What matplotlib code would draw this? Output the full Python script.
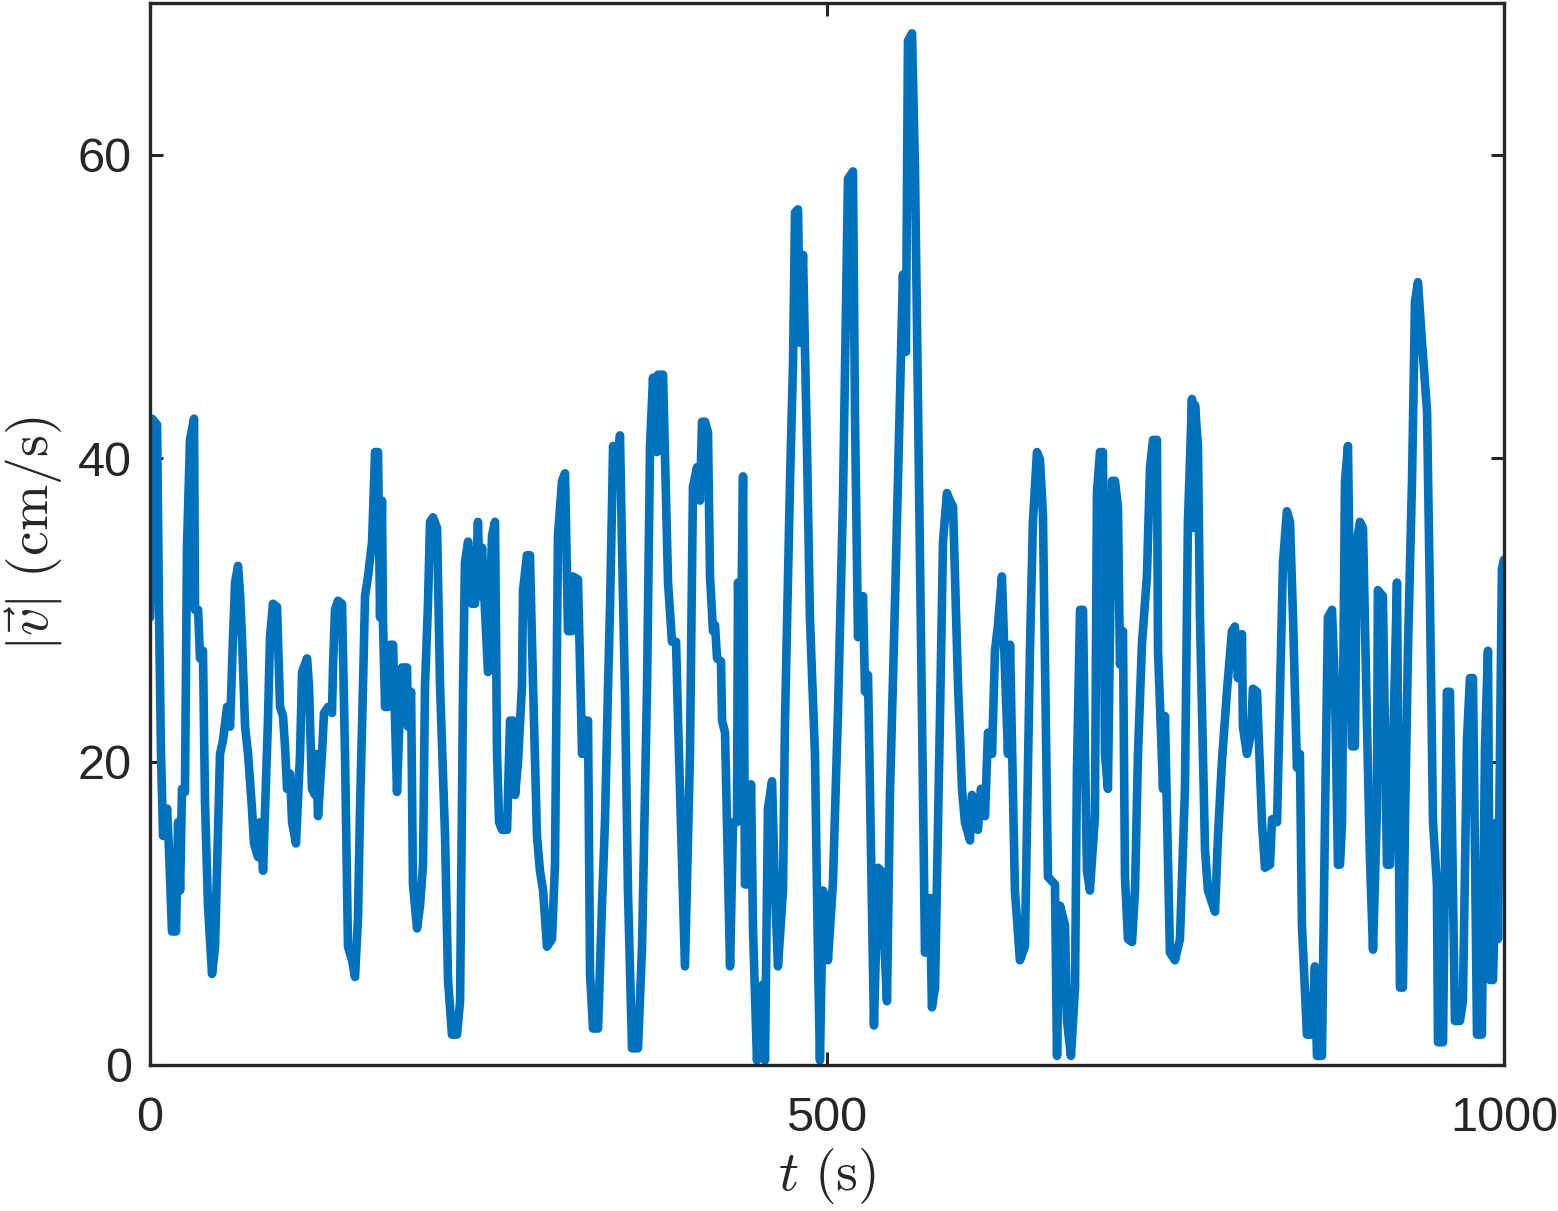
import numpy as np
import matplotlib.pyplot as plt

# time (s) and speed |v| (cm/s)
t = [0, 1.5, 5.2, 6.6, 8.1, 9.6, 12.6, 14.0, 16.2, 19.2, 20.7, 22.2, 23.6, 25.8, 27.3, 29.5,
     32.5, 33.2, 35.5, 36.9, 39.1, 40.6, 42.8, 45.8, 48.0, 50.2, 51.7, 53.9, 56.9, 59.1, 61.3,
     62.8, 65.0, 66.5, 67.9, 70.2, 72.4, 75.3, 76.8, 79.8, 81.2, 83.5, 87.1, 88.6, 90.8, 93.8,
     96.0, 98.2, 99.7, 101.2, 103.4, 104.9, 107.8, 110.8, 112.3, 116.0, 117.4, 119.6, 121.9,
     122.6, 124.1, 127.0, 128.5, 131.5, 134.4, 135.2, 136.6, 138.8, 141.8, 144.0, 146.2, 149.2,
     151.4, 153.6, 155.1, 157.3, 158.8, 161.0, 164.0, 166.2, 168.4, 169.9, 171.3, 172.1, 173.6,
     175.8, 177.3, 179.5, 182.4, 184.6, 186.1, 189.8, 190.5, 192.8, 194.2, 197.2, 199.4, 201.6,
     203.1, 205.3, 206.8, 209.0, 212.0, 214.2, 217.9, 220.1, 223.0, 226.7, 229.0, 231.2, 232.6,
     234.9, 237.8, 240.0, 242.2, 243.7, 245.2, 247.4, 249.6, 252.6, 254.8, 256.3, 257.8, 260.0,
     263.7, 265.9, 268.1, 269.6, 271.8, 274.7, 275.5, 278.4, 280.6, 282.9, 285.8, 288.0, 290.3,
     293.2, 296.9, 299.1, 301.3, 304.3, 306.5, 308.7, 311.7, 312.4, 316.1, 319.1, 321.3, 323.5,
     325.0, 327.2, 330.9, 333.8, 336.0, 338.3, 339.7, 341.2, 342.0, 344.9, 347.1, 348.6, 350.8,
     353.0, 356.0, 360.4, 363.4, 367.1, 369.3, 371.5, 374.4, 375.2, 378.9, 382.6, 385.5, 388.5,
     390.0, 395.1, 398.8, 401.0, 404.0, 406.2, 407.7, 409.9, 412.1, 413.6, 415.8, 417.3, 418.8,
     421.7, 422.5, 424.7, 426.1, 428.4, 430.6, 433.5, 434.3, 435.7, 438.0, 439.4, 441.7, 443.9,
     445.4, 448.3, 450.5, 452.7, 454.2, 456.4, 459.4, 461.6, 463.8, 467.5, 469.0, 472.7, 474.9,
     476.4, 478.6, 480.1, 482.3, 485.2, 487.4, 491.1, 493.4, 494.8, 497.0, 498.5, 500.7, 504.4,
     508.1, 511.8, 515.5, 519.2, 520.7, 522.9, 526.6, 528.1, 530.3, 534.7, 537.7, 539.9, 544.3,
     546.5, 550.2, 556.1, 558.3, 559.8, 562.8, 565.0, 572.4, 576.1, 577.5, 579.8, 583.5, 585.7,
     588.6, 590.8, 593.1, 596.8, 599.7, 601.9, 605.6, 607.1, 611.5, 613.7, 616.7, 618.9, 621.9,
     624.1, 626.3, 629.2, 631.5, 633.7, 635.2, 638.8, 642.5, 646.2, 649.9, 652.1, 655.1, 657.3,
     659.5, 663.2, 668.4, 669.9, 672.1, 675.8, 677.3, 680.2, 683.2, 684.6, 686.9, 689.1, 690.6,
     692.0, 694.2, 697.9, 699.4, 701.6, 703.8, 705.3, 707.5, 710.5, 712.7, 714.9, 716.4, 718.6,
     720.1, 722.3, 725.3, 727.5, 729.7, 732.6, 736.3, 738.6, 740.8, 743.7, 744.5, 748.2, 749.6,
     753.3, 757.0, 760.7, 764.4, 766.6, 769.6, 770.3, 771.8, 774.0, 775.5, 779.2, 781.4, 786.6,
     788.8, 791.7, 795.4, 799.1, 801.3, 803.5, 806.5, 807.2, 810.2, 813.2, 814.6, 817.6, 821.3,
     823.5, 827.2, 828.7, 832.4, 834.6, 836.8, 839.7, 842.0, 844.2, 847.1, 849.3, 850.8, 854.5,
     858.2, 860.4, 861.9, 865.6, 867.8, 870.0, 873.0, 875.2, 877.4, 878.9, 880.4, 882.6, 884.8,
     887.7, 889.9, 891.4, 893.6, 895.9, 898.8, 901.0, 903.3, 906.2, 906.9, 910.6, 913.6, 915.8,
     918.0, 921.0, 923.2, 925.4, 926.9, 929.1, 932.1, 934.3, 936.5, 939.5, 943.2, 945.3, 947.6,
     950.5, 951.3, 955.0, 957.9, 960.1, 961.6, 963.8, 967.5, 969.7, 972.7, 974.9, 977.1, 978.6,
     980.1, 983.7, 986.0, 988.2, 989.7, 991.9, 994.8, 995.6, 998.5, 1000.0]

speed = [29.5, 42.6, 42.2, 30, 20.5, 15.1, 16.9, 14.2, 8.8, 8.8, 16, 11.5, 18.2, 18, 34.1, 41.2,
         42.6, 30, 30, 26.8, 27.3, 17.3, 10.5, 6, 7.8, 15.5, 20.5, 21.4, 23.6, 22.3, 28.2,
         31.8, 32.9, 31, 28.2, 22.3, 20.5, 16.9, 14.6, 13.7, 16, 12.8, 22.7, 28.2, 30.4, 30.2,
         23.6, 23, 21, 18.2, 19.2, 16, 14.6, 20.5, 25.9, 26.8, 25, 18.2, 17.8,
         20.5, 16.4, 20.5, 23.2, 23.6, 23.2, 26.4, 30, 30.6, 30.4, 20.5, 7.8, 6.9,
         5.8, 9.7, 16.9, 25, 30.9, 32.2, 34.5, 40.4, 40.4, 29.5, 37.2, 29, 23.6,
         23.6, 27.7, 27.7, 18, 23.6, 26.2, 26.2, 22.3, 24.6, 11.9, 9, 10.5, 13.2,
         25, 30.4, 35.8, 36.1, 35.4, 25, 15.1, 5.6, 2, 2, 4.2, 25, 33.1,
         34.5, 30.4, 30.4, 35.8, 30.9, 34.1, 30, 25.9, 34.9, 35.8, 20.5, 16, 15.5,
         15.5, 22.7, 22.7, 17.8, 20, 25, 31.3, 33.6, 33.6, 25, 15.1, 12.8, 11.5,
         7.8, 8.3, 13.2, 34.9, 38.5, 39, 28.6, 28.6, 32.2, 32, 20.5, 22.7, 22.7,
         6, 2.4, 2.4, 10.5, 16, 25, 30, 36.8, 40.8, 38.5, 41.5, 34.1, 24.6,
         11.5, 1.1, 1.1, 7.8, 25, 40.8, 45.3, 40.4, 45.5, 45.5, 31.8, 27.9, 27.9,
         22.7, 6.5, 20.5, 38.1, 39.4, 37.2, 42.4, 42.4, 41.7, 32.2, 28.6, 29, 26.8,
         26.6, 22.7, 21.9, 16, 6.5, 16, 16, 31.8, 22.7, 38.8, 11.9, 11.9, 18.5,
         8.8, 0.3, 5.1, 5.3, 0.3, 16.9, 18.7, 11.5, 6.5, 11.5, 22.7, 38.5, 46.2,
         56.2, 56.4, 47.6, 53.4, 40.8, 29.5, 20.5, 6.9, 0.3, 11.5, 11.0, 6.9, 12,
         23.2, 37.2, 58.4, 58.9, 42.6, 28.2, 30.9, 24.6, 25.7, 2.6, 13, 12.8, 4.2,
         17.8, 30.4, 52.1, 47, 67.5, 68, 59, 7.4, 11, 3.8, 5.1, 23.2, 34.5,
         37.7, 37.2, 36.8, 25, 18.2, 16, 14.8, 17.8, 15.5, 18.2, 16.4, 21.9, 20.5,
         27.3, 29, 32.2, 25.9, 20.5, 27.7, 11.5, 6.9, 7.8, 27.3, 35.8, 40.4, 39.9,
         36.3, 12.4, 11.9, 0.6, 10.5, 9.2, 2.9, 0.6, 5.1, 19.2, 30, 30, 20.5,
         12.8, 11.5, 16.4, 37.7, 40.4, 40.4, 20.5, 18.2, 38.5, 38.5, 36.8, 26.4, 28.6,
         12.4, 8.3, 8.1, 11.5, 20.5, 27.7, 32.2, 39.4, 41.2, 41.2, 27.3, 18.2, 23,
         7.4, 6.9, 8.3, 18.2, 35.8, 43.9, 35.4, 43.5, 40.8, 29.5, 14.2, 11.5, 10.1,
         15.1, 20, 24.6, 28.6, 28.9, 25.5, 28.4, 22.3, 20.5, 21.9, 24.8, 24.6, 16,
         13, 13.2, 16.2, 16, 24.6, 33.1, 36.5, 35.8, 29.5, 19.6, 20.5, 9.2, 2,
         2, 6.5, 0.6, 0.6, 16, 29.5, 30, 25, 13.2, 13.2, 16, 38.5, 40.8,
         21, 21, 34.5, 35.8, 35.4, 22.7, 13.7, 7.6, 16.9, 31.3, 30.9, 13.2, 13.2,
         20.5, 31.8, 5.1, 5.1, 16, 27.3, 38.5, 50.3, 51.6, 47.6, 43.1, 30.9, 16,
         11.9, 1.5, 1.5, 24.6, 24.6, 16, 2.9, 2.9, 4.2, 21.4, 25.5, 25.5, 14.2,
         2, 2, 21, 27.3, 5.6, 5.6, 16, 8.3, 32.7, 33.3]

x_ticks = [0, 500, 1000]
y_ticks = [0, 20, 40, 60]

plt.rcParams['font.family'] = ['Liberation Sans', 'DejaVu Sans']
plt.rcParams['mathtext.fontset'] = 'cm'

fig = plt.figure(figsize=(15.58, 12.11), dpi=100)
ax = fig.add_axes([0.0963, 0.1206, 0.869, 0.8769])

ax.plot(t, speed, color='#0072BD', linewidth=6.2, solid_joinstyle='round',
        solid_capstyle='round')

ax.set_xlim(0, 1000)
ax.set_ylim(0, 70)
ax.set_xticks(x_ticks)
ax.set_yticks(y_ticks)

dark = '#262626'
for spine in ax.spines.values():
    spine.set_linewidth(2.4)
    spine.set_color(dark)
ax.tick_params(direction='in', length=9.5, width=2.2, top=True, right=True,
               labelsize=35, colors=dark)
ax.tick_params(axis='x', pad=22)
ax.tick_params(axis='y', pad=13)

ax.set_xlabel(r'$t\ \mathrm{(s)}$', fontsize=40, color=dark, labelpad=4)
ax.set_ylabel(r'$|\vec{v}|\ \mathrm{(cm/s)}$', fontsize=40, color=dark, labelpad=10)

fig.savefig('out.png', dpi=100)
